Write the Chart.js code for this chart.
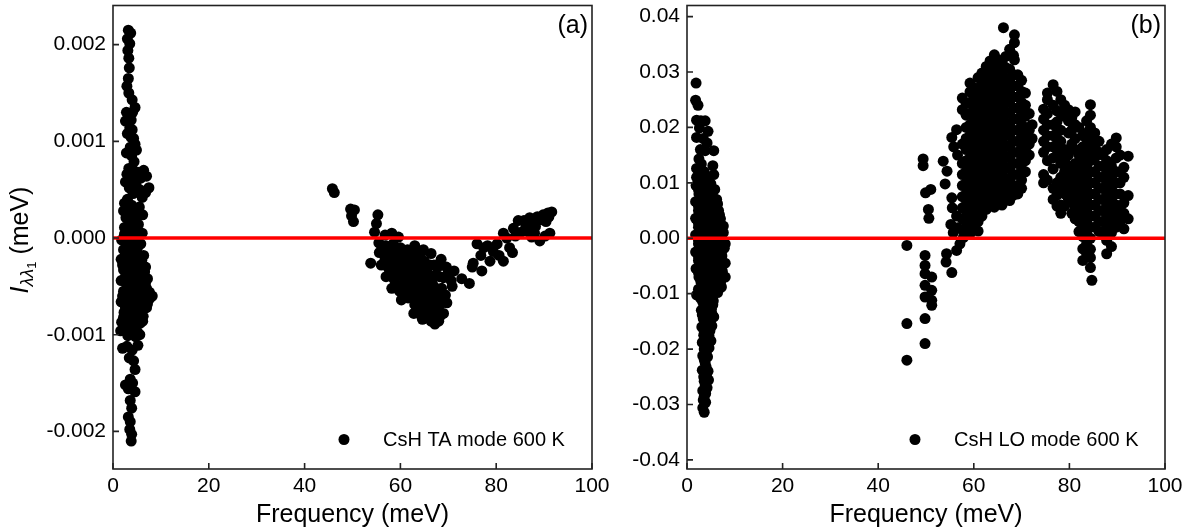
<!DOCTYPE html>
<html>
<head>
<meta charset="utf-8">
<title>CsH TA / LO mode 600 K</title>
<script src="https://cdn.jsdelivr.net/npm/chart.js@4.4.1/dist/chart.umd.min.js"></script>
<style>
  body { margin: 0; background: #fff; }
  #wrap { position: relative; width: 1197px; height: 532px; }
  #chartA { position: absolute; left: 0; top: 0; }
  #chartB { position: absolute; left: 600px; top: 0; }
</style>
</head>
<body>
<div id="wrap">
  <canvas id="chartA" width="620" height="532"></canvas>
  <canvas id="chartB" width="597" height="532"></canvas>
</div>
<script>
// Eixos: ticks
const freqTicks = [0, 20, 40, 60, 80, 100];
const taTicks = [-0.002, -0.001, 0, 0.001, 0.002];
const loTicks = [-0.04, -0.03, -0.02, -0.01, 0, 0.01, 0.02, 0.03, 0.04];

// linha vermelha em zero
const zeroFreq = [0, 100];
const zeroVal = [0, 0];

// (a) TA mode, [frequency meV, I]
const taLow = [
  [3.2,0.00215],[3.7,0.00212],[3.0,0.00206],[3.5,0.00201],[3.1,0.00194],[3.3,0.00186],[3.4,0.00176],
  [3.2,0.00165],[2.9,0.00157],[3.3,0.00150],[4.0,0.00143],[4.6,0.00135],[4.1,0.00130],[2.8,0.00130],
  [3.2,0.00124],[2.6,0.00121],[3.8,0.00122],[3.5,0.00114],[3.0,0.00108],[4.3,0.00103],[4.6,0.00097],
  [4.9,0.00091],[2.8,0.00088],[3.9,0.00085],[4.4,0.00079],[3.3,0.00072],[2.9,0.00066],[4.2,0.00064],
  [5.2,0.00068],[6.4,0.00070],[7.0,0.00064],[3.6,0.00060],[4.8,0.00056],[7.5,0.00052],[6.8,0.00047],
  [6.1,0.00042],[3.0,0.00040],[2.4,0.00036],[3.9,0.00034],[5.5,0.00032],[4.6,0.00028],[6.2,0.00024],
  [2.7,0.00021],[3.6,0.00017],[5.3,0.00014],[2.4,0.00011],[4.4,0.00008],[6.1,0.00005],[3.2,0.00002],
  [3.6,0.00094],[3.8,0.00104],[4.0,0.00112],[4.0,0.00072],[2.6,0.00058],[5.8,0.00062],[3.4,0.00052],
  [4.2,0.00046],[5.6,0.00050],[2.2,0.00028],[3.4,0.00026],[5.0,0.00022],[3.0,0.00012],[5.0,0.00004],
  [1.8,-0.00002],[3.0,-0.00004],[4.6,-0.00003],[5.8,-0.00006],[2.2,-0.00012],[3.6,-0.00014],[5.0,-0.00015],
  [6.4,-0.00018],[1.7,-0.00022],[2.8,-0.00024],[4.2,-0.00026],[5.6,-0.00028],[6.8,-0.00030],[2.2,-0.00033],
  [3.5,-0.00036],[4.9,-0.00037],[6.2,-0.00040],[7.2,-0.00042],[1.7,-0.00044],[2.8,-0.00047],[4.2,-0.00049],
  [5.6,-0.00050],[7.0,-0.00052],[8.2,-0.00060],[2.2,-0.00055],[3.5,-0.00058],[4.9,-0.00060],[6.3,-0.00062],
  [7.6,-0.00063],[1.7,-0.00066],[2.9,-0.00068],[4.3,-0.00070],[5.6,-0.00071],[7.0,-0.00072],[2.3,-0.00077],
  [3.6,-0.00079],[5.0,-0.00080],[6.3,-0.00081],[1.8,-0.00087],[3.0,-0.00089],[4.4,-0.00090],[5.7,-0.00088],
  [2.5,-0.00094],[3.8,-0.00096],[5.1,-0.00097],
  [2.4,0.00004],[4.0,-0.00008],[5.2,-0.00009],[2.9,-0.00018],[4.4,-0.00020],[6.0,-0.00023],[2.0,-0.00028],
  [3.4,-0.00030],[5.0,-0.00031],[6.6,-0.00035],[2.6,-0.00040],[4.0,-0.00042],[5.4,-0.00044],[6.8,-0.00046],
  [3.0,-0.00051],[4.5,-0.00053],[6.0,-0.00056],[7.6,-0.00056],[2.0,-0.00060],[4.0,-0.00064],[5.4,-0.00066],
  [7.2,-0.00068],[2.6,-0.00072],[4.0,-0.00074],[5.8,-0.00076],[2.2,-0.00082],[3.6,-0.00084],[5.0,-0.00085],
  [6.2,-0.00086],[3.2,-0.00093],[4.6,-0.00094],
  [1.6,-0.00096],[3.1,-0.00101],[4.7,-0.00102],[5.6,-0.00100],[2.0,-0.00114],[2.9,-0.00112],[4.0,-0.00116],
  [5.2,-0.00111],[3.4,-0.00124],[4.3,-0.00127],[4.6,-0.00136],[3.6,-0.00146],[2.6,-0.00152],[4.1,-0.00150],
  [3.2,-0.00156],[4.6,-0.00159],[3.6,-0.00168],[3.9,-0.00176],[3.2,-0.00185],[3.6,-0.00190],[3.5,-0.00198],
  [3.9,-0.00203],[3.8,-0.00210]
];
const taHigh = [
  [45.8,0.00051],[46.2,0.00047],[49.6,0.00030],[50.4,0.00029],[49.8,0.00023],[50.2,0.00017],
  [55.3,0.00024],[55.0,0.00015],[54.6,0.00006],[56.8,0.00003],[58.2,0.00005],[59.6,0.00001],[53.8,-0.00026],
  [55.5,-0.00005],[57.0,-0.00008],[58.5,-0.00006],[60.0,-0.00010],[61.5,-0.00012],[63.0,-0.00008],
  [55.6,-0.00015],[57.2,-0.00018],[58.8,-0.00016],[60.4,-0.00020],[62.0,-0.00022],[63.5,-0.00020],
  [64.8,-0.00012],[66.4,-0.00016],[65.0,-0.00024],
  [56.0,-0.00028],[57.5,-0.00031],[59.2,-0.00029],[60.8,-0.00033],[62.4,-0.00031],[64.0,-0.00030],
  [65.5,-0.00034],[67.0,-0.00028],[68.5,-0.00022],[69.6,-0.00030],
  [57.0,-0.00040],[58.6,-0.00042],[60.2,-0.00039],[61.8,-0.00044],[63.4,-0.00042],[65.0,-0.00045],
  [66.6,-0.00043],[68.2,-0.00040],[69.8,-0.00038],[71.2,-0.00034],[72.8,-0.00042],[74.4,-0.00047],
  [58.2,-0.00052],[59.8,-0.00055],[61.4,-0.00052],[63.0,-0.00057],[64.6,-0.00055],[66.2,-0.00058],
  [67.8,-0.00056],[69.4,-0.00059],[70.8,-0.00050],
  [60.2,-0.00064],[61.6,-0.00062],[63.6,-0.00070],[65.2,-0.00067],[66.8,-0.00071],[68.4,-0.00068],[69.7,-0.00067],
  [62.8,-0.00078],[64.4,-0.00081],[66.0,-0.00077],[67.6,-0.00082],[69.0,-0.00078],[64.6,-0.00084],
  [67.2,-0.00089],[68.0,-0.00086],
  [56.2,-0.00010],[57.8,-0.00013],[59.4,-0.00012],[61.0,-0.00016],[62.8,-0.00015],[64.2,-0.00017],
  [56.8,-0.00022],[58.2,-0.00024],[59.8,-0.00025],[61.4,-0.00026],[63.0,-0.00025],[64.6,-0.00026],
  [66.2,-0.00028],[67.8,-0.00030],[57.8,-0.00036],[59.4,-0.00035],[61.0,-0.00038],[62.6,-0.00037],
  [64.2,-0.00036],[65.8,-0.00039],[67.4,-0.00038],[69.0,-0.00041],[70.6,-0.00044],[59.0,-0.00047],
  [60.6,-0.00048],[62.2,-0.00049],[63.8,-0.00048],[65.4,-0.00051],[67.0,-0.00050],[68.6,-0.00052],
  [60.8,-0.00058],[62.4,-0.00061],[64.0,-0.00062],[65.6,-0.00062],[67.2,-0.00064],[68.8,-0.00063],
  [63.0,-0.00069],[64.6,-0.00073],[66.2,-0.00074],[67.8,-0.00075],[65.6,-0.00082],[66.4,-0.00086],[68.4,-0.00080],
  [75.2,-0.00026],[76.0,-0.00006],[77.4,-0.00010],[75.0,-0.00030],[77.0,-0.00034],[78.7,-0.00024],
  [79.4,-0.00014],[81.5,-0.00024],[80.2,-0.00006],[81.5,0.00005],[82.8,-0.00010],[83.4,-0.00015],
  [83.6,0.00010],[84.6,0.00018],[85.2,0.00006],[86.2,0.00012],[87.0,0.00021],[87.7,0.00018],
  [88.6,0.00022],[89.8,0.00024],[90.8,0.00026],[91.6,0.00027],[89.1,-0.00003],[90.2,0.00002],
  [91.2,0.00005],[87.4,0.00001],
  [76.8,-0.00018],[78.2,-0.00008],[80.6,-0.00018],[82.2,0.00000],[84.0,0.00002],[85.8,0.00018],
  [86.8,0.00006],[88.2,0.00012],[89.4,0.00019],[90.4,0.00017],[91.0,0.00022],[88.0,0.00005]
];

// (b) LO mode
const loLow = [
  [1.9,0.0280],[1.8,0.0249],[2.3,0.0240],[2.0,0.0213],[2.9,0.0212],[3.8,0.0212],[2.6,0.0199],[4.4,0.0193],
  [2.0,0.0182],[3.4,0.0180],[4.2,0.0172],[2.8,0.0160],[3.8,0.0158],[5.6,0.0158],[2.5,0.0143],[5.4,0.0131],
  [3.0,0.0134],[2.0,0.0126],[3.6,0.0120],[5.6,0.0115],[2.0,0.0110],[4.5,0.0105],
  [1.9,0.0095],[3.2,0.0090],[4.6,0.0093],[5.8,0.0088],[2.5,0.0080],[3.9,0.0078],[5.2,0.0075],[6.2,0.0070],
  [1.8,0.0066],[3.2,0.0063],[4.6,0.0060],[6.0,0.0055],[2.4,0.0050],[3.8,0.0048],[5.2,0.0046],[6.6,0.0050],
  [1.8,0.0036],[3.1,0.0034],[4.5,0.0032],[5.9,0.0030],[7.0,0.0035],[2.4,0.0020],[3.8,0.0018],[5.2,0.0017],
  [6.6,0.0015],[7.6,0.0010],[1.8,0.0006],[3.1,0.0004],[4.5,0.0003],[5.9,0.0001],[7.2,-0.0002],[8.0,-0.0010],
  [2.4,-0.0010],[3.8,-0.0012],[5.2,-0.0013],[6.6,-0.0015],[1.8,-0.0025],[3.1,-0.0027],[4.5,-0.0028],
  [5.9,-0.0030],[7.3,-0.0032],[8.0,-0.0045],[2.4,-0.0040],[3.8,-0.0042],[5.2,-0.0043],[6.6,-0.0045],
  [1.9,-0.0055],[3.1,-0.0057],[4.5,-0.0058],[5.9,-0.0060],[7.4,-0.0060],[8.0,-0.0070],[2.5,-0.0070],
  [3.8,-0.0072],[5.2,-0.0073],[6.6,-0.0075],[7.2,-0.0088],[2.0,-0.0102],[3.1,-0.0085],[4.5,-0.0088],
  [5.9,-0.0090],[3.0,-0.0100],[4.0,-0.0103],[5.2,-0.0102],[6.4,-0.0098],
  [2.5,0.0118],[4.0,0.0112],[3.0,0.0102],[5.0,0.0098],[2.4,0.0088],[4.0,0.0085],[5.4,0.0083],[3.2,0.0072],
  [4.6,0.0068],[6.4,0.0062],[2.4,0.0058],[3.9,0.0055],[5.4,0.0053],[6.8,0.0042],[3.1,0.0042],[4.5,0.0040],
  [6.2,0.0038],[2.4,0.0027],[3.8,0.0026],[5.2,0.0024],[6.6,0.0022],[7.6,0.0022],[3.1,0.0011],[4.5,0.0010],
  [6.2,0.0008],[2.4,-0.0003],[3.8,-0.0005],[5.2,-0.0006],[6.6,-0.0008],[7.8,-0.0018],[3.1,-0.0018],
  [4.5,-0.0020],[5.9,-0.0022],[7.2,-0.0024],[2.4,-0.0033],[3.8,-0.0035],[5.2,-0.0036],[6.6,-0.0038],
  [3.1,-0.0048],[4.5,-0.0050],[5.9,-0.0052],[7.2,-0.0052],[2.4,-0.0062],[3.8,-0.0064],[5.2,-0.0066],
  [6.6,-0.0068],[2.9,-0.0078],[4.5,-0.0080],[5.9,-0.0082],[7.0,-0.0080],[2.4,-0.0092],[3.8,-0.0094],
  [5.2,-0.0095],[2.8,-0.0108],[3.8,-0.0110],[4.9,-0.0108],[3.5,-0.0123],[4.6,-0.0124],[5.4,-0.0120],
  [3.2,-0.0138],[4.2,-0.0139],[5.2,-0.0136],[3.8,-0.0153],[4.8,-0.0152],[3.6,-0.0168],[4.8,-0.0167],
  [3.8,-0.0182],[4.0,-0.0206],[3.6,-0.0219],[4.0,-0.0232],[4.0,-0.0247],[3.6,-0.0258],[4.2,-0.0270],[3.6,-0.0286],
  [3.3,-0.0115],[4.4,-0.0117],[5.5,-0.0113],[3.0,-0.0130],[4.0,-0.0132],[5.1,-0.0128],[3.4,-0.0145],
  [4.6,-0.0146],[5.6,-0.0142],[3.1,-0.0160],[4.2,-0.0161],[5.2,-0.0158],[3.5,-0.0175],[4.6,-0.0176],
  [3.2,-0.0188],[4.2,-0.0190],[5.0,-0.0185],[3.6,-0.0200],[4.6,-0.0198],[3.3,-0.0212],[4.3,-0.0214],
  [3.8,-0.0225],[3.2,-0.0238],[4.4,-0.0240],[3.5,-0.0250],[4.5,-0.0256],[3.8,-0.0265],[3.3,-0.0275],
  [3.9,-0.0280],[3.4,-0.0292],[3.9,-0.0296],[3.3,-0.0306],[3.6,-0.0314]
];
const loHigh = [
  [46.0,-0.0013],[46.0,-0.0154],[46.0,-0.0220],
  [49.4,0.0143],[49.4,0.0131],[49.9,0.0082],[51.0,0.0088],[50.5,0.0052],[50.6,0.0036],
  [49.8,-0.0031],[49.8,-0.0049],[49.8,-0.0064],[51.2,-0.0070],[49.8,-0.0085],[51.2,-0.0094],
  [49.8,-0.0106],[51.2,-0.0112],[51.2,-0.0121],[49.8,-0.0145],[49.8,-0.0190],
  [53.6,0.0139],[54.4,0.0121],[54.0,0.0098],[55.4,0.0073],[55.5,0.0055],[56.4,0.0040],[55.2,0.0025],
  [56.6,0.0019],[54.3,-0.0028],[54.2,-0.0043],[55.4,-0.0062],[56.4,-0.0022],[57.1,-0.0010],[57.8,0.0001],
  [55.7,0.0010],[56.4,0.0196],[55.4,0.0182],[55.8,0.0165],[56.6,0.0150],
  [57.6,0.0253],[57.6,0.0232],[57.6,0.0170],[57.6,0.0135],[57.6,0.0115],[57.6,0.0095],[57.6,0.0075],
  [57.6,0.0055],[57.6,0.0035],[57.6,0.0015],
  [58.4,0.0243],[58.4,0.0222],[58.4,0.0200],[58.4,0.0180],[58.4,0.0160],[58.4,0.0140],[58.4,0.0120],
  [58.4,0.0100],[58.4,0.0080],[58.4,0.0060],[58.4,0.0040],[58.4,0.0020],
  [59.2,0.0280],[59.2,0.0264],[59.2,0.0245],[59.2,0.0225],[59.2,0.0205],[59.2,0.0185],[59.2,0.0165],
  [59.2,0.0145],[59.2,0.0125],[59.2,0.0105],[59.2,0.0085],[59.2,0.0065],[59.2,0.0045],[59.2,0.0025],[59.2,0.0008],
  [60.0,0.0272],[60.0,0.0255],[60.0,0.0235],[60.0,0.0215],[60.0,0.0195],[60.0,0.0175],[60.0,0.0155],
  [60.0,0.0135],[60.0,0.0115],[60.0,0.0095],[60.0,0.0075],[60.0,0.0055],[60.0,0.0035],[60.0,0.0017],
  [60.9,0.0290],[60.9,0.0270],[60.9,0.0250],[60.9,0.0230],[60.9,0.0210],[60.9,0.0190],[60.9,0.0170],
  [60.9,0.0150],[60.9,0.0130],[60.9,0.0110],[60.9,0.0090],[60.9,0.0070],[60.9,0.0050],[60.9,0.0030],[60.9,0.0013],
  [61.7,0.0298],[61.7,0.0280],[61.7,0.0260],[61.7,0.0240],[61.7,0.0220],[61.7,0.0200],[61.7,0.0180],
  [61.7,0.0160],[61.7,0.0140],[61.7,0.0120],[61.7,0.0100],[61.7,0.0080],[61.7,0.0060],[61.7,0.0040],
  [62.6,0.0310],[62.6,0.0288],[62.6,0.0268],[62.6,0.0248],[62.6,0.0228],[62.6,0.0208],[62.6,0.0188],
  [62.6,0.0168],[62.6,0.0148],[62.6,0.0128],[62.6,0.0108],[62.6,0.0088],[62.6,0.0068],[62.6,0.0052],
  [63.4,0.0320],[63.4,0.0298],[63.4,0.0278],[63.4,0.0258],[63.4,0.0238],[63.4,0.0218],[63.4,0.0198],
  [63.4,0.0178],[63.4,0.0158],[63.4,0.0138],[63.4,0.0118],[63.4,0.0098],[63.4,0.0078],[63.4,0.0060],
  [64.3,0.0331],[64.3,0.0312],[64.3,0.0292],[64.3,0.0272],[64.3,0.0252],[64.3,0.0232],[64.3,0.0212],
  [64.3,0.0192],[64.3,0.0172],[64.3,0.0152],[64.3,0.0132],[64.3,0.0112],[64.3,0.0092],[64.3,0.0072],[64.3,0.0056],
  [65.1,0.0322],[65.1,0.0302],[65.1,0.0282],[65.1,0.0262],[65.1,0.0242],[65.1,0.0222],[65.1,0.0202],
  [65.1,0.0182],[65.1,0.0162],[65.1,0.0142],[65.1,0.0122],[65.1,0.0102],[65.1,0.0082],[65.1,0.0065],
  [65.9,0.0318],[65.9,0.0298],[65.9,0.0278],[65.9,0.0258],[65.9,0.0238],[65.9,0.0218],[65.9,0.0198],
  [65.9,0.0178],[65.9,0.0158],[65.9,0.0138],[65.9,0.0118],[65.9,0.0098],[65.9,0.0078],[65.9,0.0060],
  [66.2,0.0380],
  [66.7,0.0328],[66.7,0.0308],[66.7,0.0288],[66.7,0.0268],[66.7,0.0248],[66.7,0.0228],[66.7,0.0208],
  [66.7,0.0188],[66.7,0.0168],[66.7,0.0148],[66.7,0.0128],[66.7,0.0108],[66.7,0.0088],[66.7,0.0070],
  [67.5,0.0341],[67.5,0.0305],[67.5,0.0285],[67.5,0.0265],[67.5,0.0245],[67.5,0.0225],[67.5,0.0205],
  [67.5,0.0185],[67.5,0.0165],[67.5,0.0145],[67.5,0.0125],[67.5,0.0105],[67.5,0.0085],[67.5,0.0068],
  [68.3,0.0330],[68.3,0.0295],[68.3,0.0275],[68.3,0.0255],[68.3,0.0235],[68.3,0.0215],[68.3,0.0195],
  [68.3,0.0175],[68.3,0.0155],[68.3,0.0135],[68.3,0.0115],[68.3,0.0095],[68.3,0.0078],
  [68.5,0.0367],[68.5,0.0353],[68.5,0.0322],
  [69.2,0.0295],[69.2,0.0275],[69.2,0.0255],[69.2,0.0235],[69.2,0.0215],[69.2,0.0195],[69.2,0.0175],
  [69.2,0.0155],[69.2,0.0135],[69.2,0.0115],[69.2,0.0095],[69.2,0.0080],
  [70.0,0.0285],[70.0,0.0265],[70.0,0.0245],[70.0,0.0225],[70.0,0.0205],[70.0,0.0185],[70.0,0.0165],
  [70.0,0.0145],[70.0,0.0125],[70.0,0.0105],[70.0,0.0090],
  [70.8,0.0262],[70.8,0.0240],[70.8,0.0220],[70.8,0.0200],[70.8,0.0180],[70.8,0.0160],[70.8,0.0140],[70.8,0.0120],
  [71.6,0.0225],[71.6,0.0195],[71.6,0.0170],[71.6,0.0150],
  [72.2,0.0205],[72.2,0.0180],
  [74.6,0.0233],[74.6,0.0215],[74.6,0.0195],[74.6,0.0175],[74.6,0.0155],[74.6,0.0115],[74.6,0.0100],
  [75.4,0.0262],[75.4,0.0250],[75.4,0.0225],[75.4,0.0205],[75.4,0.0185],[75.4,0.0165],[75.4,0.0140],[75.4,0.0105],
  [76.6,0.0277],[76.6,0.0240],[76.6,0.0205],[76.6,0.0185],[76.6,0.0165],[76.6,0.0145],[76.6,0.0125],
  [76.6,0.0090],[76.6,0.0070],
  [77.4,0.0265],[77.4,0.0230],[77.4,0.0210],[77.4,0.0190],[77.4,0.0170],[77.4,0.0150],[77.4,0.0100],
  [77.4,0.0078],[77.4,0.0058],
  [78.2,0.0250],[78.2,0.0225],[78.2,0.0195],[78.2,0.0175],[78.2,0.0155],[78.2,0.0135],[78.2,0.0110],
  [78.2,0.0085],[78.2,0.0060],[78.2,0.0045],
  [79.0,0.0240],[79.0,0.0220],[79.0,0.0160],[79.0,0.0140],[79.0,0.0120],[79.0,0.0100],[79.0,0.0080],[79.0,0.0058],
  [79.8,0.0232],[79.8,0.0212],[79.8,0.0190],[79.8,0.0150],[79.8,0.0130],[79.8,0.0110],[79.8,0.0090],[79.8,0.0070],
  [80.5,0.0218],[80.5,0.0195],[80.5,0.0170],[80.5,0.0125],[80.5,0.0105],[80.5,0.0085],[80.5,0.0065],[80.5,0.0045],
  [81.2,0.0228],[81.2,0.0205],[81.2,0.0180],[81.2,0.0160],[81.2,0.0135],[81.2,0.0115],[81.2,0.0095],
  [81.2,0.0075],[81.2,0.0055],[81.2,0.0035],
  [82.0,0.0200],[82.0,0.0150],[82.0,0.0130],[82.0,0.0110],[82.0,0.0090],[82.0,0.0070],[82.0,0.0050],
  [82.0,0.0030],[82.0,0.0012],
  [82.8,0.0185],[82.8,0.0165],[82.8,0.0140],[82.8,0.0120],[82.8,0.0100],[82.8,0.0080],[82.8,0.0060],
  [82.8,0.0040],[82.8,0.0020],[82.8,0.0003],[82.8,-0.0019],[82.8,-0.0040],
  [83.6,0.0212],[83.6,0.0190],[83.6,0.0170],[83.6,0.0150],[83.6,0.0130],[83.6,0.0110],[83.6,0.0090],
  [83.6,0.0070],[83.6,0.0050],[83.6,0.0030],[83.6,0.0010],[83.6,-0.0010],[83.6,-0.0028],
  [84.4,0.0241],[84.4,0.0222],[84.4,0.0200],[84.4,0.0180],[84.4,0.0160],[84.4,0.0140],[84.4,0.0120],
  [84.4,0.0100],[84.4,0.0080],[84.4,0.0060],[84.4,0.0040],[84.4,0.0020],[84.4,0.0000],[84.4,-0.0020],
  [84.4,-0.0035],[84.4,-0.0053],[84.7,-0.0076],
  [85.3,0.0190],[85.3,0.0165],[85.3,0.0145],[85.3,0.0120],[85.3,0.0100],[85.3,0.0080],[85.3,0.0060],
  [85.3,0.0040],[85.3,0.0020],
  [86.2,0.0175],[86.2,0.0155],[86.2,0.0130],[86.2,0.0110],[86.2,0.0090],[86.2,0.0070],[86.2,0.0050],
  [86.2,0.0030],[86.2,0.0012],
  [87.0,0.0150],[87.0,0.0130],[87.0,0.0110],[87.0,0.0090],[87.0,0.0070],[87.0,0.0050],[87.0,0.0030],[87.0,0.0010],
  [87.8,0.0160],[87.8,0.0140],[87.8,0.0120],[87.8,0.0100],[87.8,0.0080],[87.8,0.0060],[87.8,0.0040],
  [87.8,0.0020],[87.8,-0.0004],[87.8,-0.0028],
  [88.8,0.0170],[88.8,0.0130],[88.8,0.0110],[88.8,0.0090],[88.8,0.0070],[88.8,0.0050],[88.8,0.0030],
  [88.8,0.0010],[88.8,-0.0015],
  [89.8,0.0181],[89.8,0.0165],[89.8,0.0145],[89.8,0.0120],[89.8,0.0100],[89.8,0.0080],[89.8,0.0060],
  [89.8,0.0040],[89.8,0.0020],
  [90.6,0.0150],[90.6,0.0120],[90.6,0.0100],[90.6,0.0080],[90.6,0.0055],[90.6,0.0030],
  [91.4,0.0128],[91.4,0.0110],[91.4,0.0064],[91.4,0.0045],[91.4,0.0017],
  [92.3,0.0148],[92.3,0.0077],[92.3,0.0035]
];

const FONT = '"Liberation Sans", Arial, Helvetica, sans-serif';
Chart.defaults.font.family = FONT;
Chart.defaults.color = "#000";

// Moldura, ticks para dentro, títulos, legenda e rótulo do painel
const panelDecor = {
  id: "panelDecor",
  afterDraw(chart, args, opts) {
    const { ctx, chartArea: a, scales: { x, y } } = chart;
    ctx.save();
    ctx.strokeStyle = "#222";
    ctx.lineWidth = 1.6;
    ctx.strokeRect(a.left, a.top, a.right - a.left, a.bottom - a.top);

    ctx.beginPath();
    x.ticks.forEach(t => {
      const px = x.getPixelForValue(t.value);
      ctx.moveTo(px, a.bottom);
      ctx.lineTo(px, a.bottom - 6);
    });
    y.ticks.forEach(t => {
      const py = y.getPixelForValue(t.value);
      ctx.moveTo(a.left, py);
      ctx.lineTo(a.left + 6, py);
    });
    ctx.stroke();

    ctx.fillStyle = "#000";
    // rótulo (a)/(b)
    ctx.font = "25px " + FONT;
    ctx.textAlign = "right";
    ctx.textBaseline = "alphabetic";
    ctx.fillText(opts.tag, a.right - 4, a.top + 27.5);

    // título do eixo x
    ctx.textAlign = "center";
    ctx.fillText("Frequency (meV)", (a.left + a.right) / 2, 522);

    // legenda
    const ds = chart.data.datasets[1];
    const lx = a.left + opts.legendX, ly = a.bottom - 29.5;
    ctx.beginPath();
    ctx.arc(lx, ly, 5.5, 0, Math.PI * 2);
    ctx.fill();
    ctx.font = "20px " + FONT;
    ctx.textAlign = "left";
    ctx.textBaseline = "middle";
    ctx.fillText(ds.label, lx + 39, ly + 1);

    // título do eixo y (só no painel a)
    if (opts.yTitle) {
      ctx.translate(28, 240);
      ctx.rotate(-Math.PI / 2);
      const parts = [
        { t: "I", f: "italic 25px " + FONT, dy: 0 },
        { t: "λλ", f: "italic 18px " + FONT, dy: 5 },
        { t: "1", f: "13px " + FONT, dy: 8 },
        { t: " (meV)", f: "25px " + FONT, dy: 0 }
      ];
      let total = 0;
      parts.forEach(p => { ctx.font = p.f; p.w = ctx.measureText(p.t).width; total += p.w; });
      let cx = -total / 2;
      ctx.textAlign = "left";
      ctx.textBaseline = "alphabetic";
      parts.forEach(p => { ctx.font = p.f; ctx.fillText(p.t, cx, p.dy); cx += p.w; });
    }
    ctx.restore();
  }
};

function makeChart(id, cfg) {
  return new Chart(document.getElementById(id), {
    type: "scatter",
    data: {
      datasets: [
        {
          label: "zero",
          data: zeroFreq.map((f, i) => ({ x: f, y: zeroVal[i] })),
          showLine: true,
          borderColor: "#ff0000",
          borderWidth: 3.5,
          pointRadius: 0,
          order: 0
        },
        {
          label: cfg.label,
          data: cfg.points.map(p => ({ x: p[0], y: p[1] })),
          backgroundColor: "#000",
          pointRadius: 5.5,
          pointBorderWidth: 0,
          pointHoverRadius: 5.5,
          order: 1
        }
      ]
    },
    options: {
      responsive: false,
      animation: false,
      events: [],
      layout: { padding: { top: 4, right: cfg.padRight, bottom: 0, left: 0 } },
      plugins: {
        legend: { display: false },
        tooltip: { enabled: false },
        panelDecor: { tag: cfg.tag, yTitle: cfg.yTitle, legendX: cfg.legendX }
      },
      scales: {
        x: {
          type: "linear", min: 0, max: 100,
          grid: { display: false, drawTicks: false },
          border: { display: false },
          ticks: { font: { size: 21 }, padding: 5, maxRotation: 0, autoSkip: false },
          afterBuildTicks: s => { s.ticks = freqTicks.map(v => ({ value: v })); },
          afterFit: s => { s.height = 63; s.paddingLeft = 0; s.paddingRight = 0; }
        },
        y: {
          type: "linear", min: cfg.yMin, max: cfg.yMax,
          grid: { display: false, drawTicks: false },
          border: { display: false },
          ticks: {
            font: { size: 21 }, padding: 7, autoSkip: false,
            callback: v => v.toFixed(cfg.decimals)
          },
          afterBuildTicks: s => { s.ticks = cfg.ticks.map(v => ({ value: v })); },
          afterFit: s => { s.width = cfg.yWidth; s.paddingTop = 0; s.paddingBottom = 0; }
        }
      }
    },
    plugins: [panelDecor]
  });
}

makeChart("chartA", {
  label: "CsH TA mode 600 K", points: taLow.concat(taHigh), tag: "(a)", yTitle: true,
  yMin: -0.002389, yMax: 0.002405, ticks: taTicks, decimals: 3,
  yWidth: 113, padRight: 28, legendX: 231
});
makeChart("chartB", {
  label: "CsH LO mode 600 K", points: loLow.concat(loHigh), tag: "(b)", yTitle: false,
  yMin: -0.04164, yMax: 0.042, ticks: loTicks, decimals: 2,
  yWidth: 87, padRight: 32, legendX: 228
});
</script>
</body>
</html>
